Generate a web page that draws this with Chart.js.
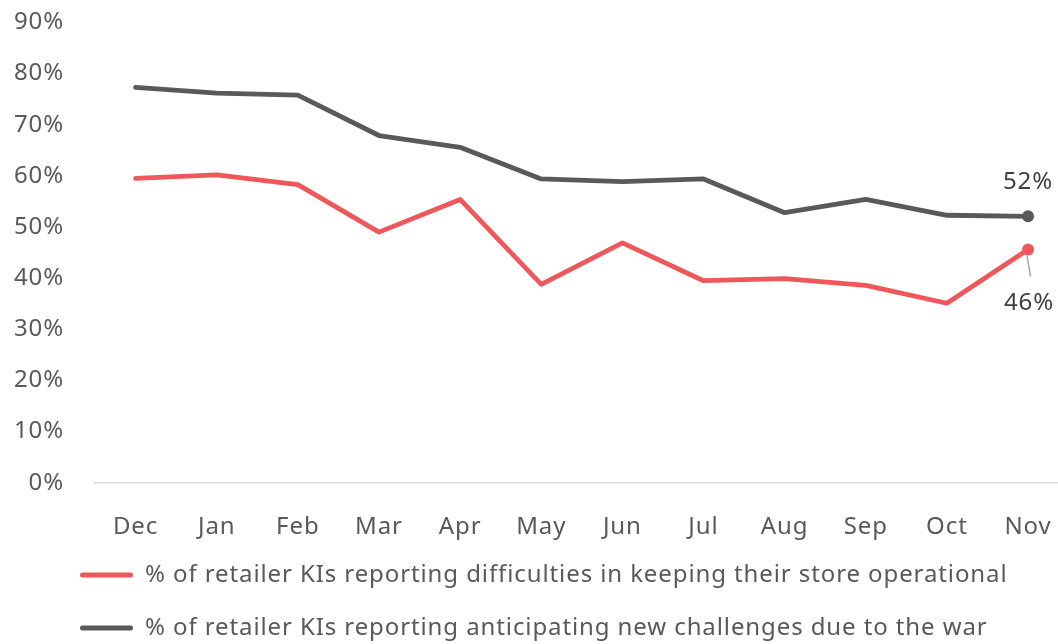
<!DOCTYPE html>
<html>
<head>
<meta charset="utf-8">
<script src="https://cdn.jsdelivr.net/npm/chart.js@4/dist/chart.umd.min.js"></script>
<style>
  html, body { margin: 0; padding: 0; background: #ffffff; overflow: hidden; }
  #wrap { position: absolute; left: 0; top: 0; width: 1100px; height: 660px; }
</style>
</head>
<body>
<div id="wrap"><canvas id="c"></canvas></div>
<script>
const months = ['Dec','Jan','Feb','Mar','Apr','May','Jun','Jul','Aug','Sep','Oct','Nov'];
const difficulties = [0.595, 0.602, 0.583, 0.490, 0.554, 0.388, 0.469, 0.395, 0.399, 0.386, 0.351, 0.456];
const challenges   = [0.773, 0.762, 0.758, 0.679, 0.656, 0.594, 0.589, 0.594, 0.528, 0.554, 0.523, 0.521];
const seriesNames = [
  '% of retailer KIs reporting difficulties in keeping their store operational',
  '% of retailer KIs reporting anticipating new challenges due to the war'
];
const yTicks = [0, 0.1, 0.2, 0.3, 0.4, 0.5, 0.6, 0.7, 0.8, 0.9];

const RED = '#ee585b';
const GREY = '#595959';
const FONT = "'Noto Sans', 'Open Sans', sans-serif";
const SPACING = '0.9px';

const lastPointOnly = (ctx) => ctx.dataIndex === months.length - 1 ? 6 : 0;

const spacing = {
  id: 'spacing',
  beforeUpdate(chart) { chart.ctx.letterSpacing = SPACING; },
  beforeLayout(chart) { chart.ctx.letterSpacing = SPACING; },
  beforeDraw(chart) { chart.ctx.letterSpacing = SPACING; },
  afterLayout(chart) {
    const lg = chart.legend;
    if (lg) {
      lg.left += 51; lg.right += 51;
      lg.top -= 10; lg.bottom -= 10;
    }
  }
};

const endLabels = {
  id: 'endLabels',
  afterDatasetsDraw(chart) {
    const ctx = chart.ctx;
    const last = months.length - 1;
    ctx.save();
    ctx.letterSpacing = SPACING;
    ctx.font = '24px ' + FONT;
    ctx.fillStyle = '#404040';
    ctx.textAlign = 'center';
    ctx.textBaseline = 'middle';
    const pg = chart.getDatasetMeta(1).data[last];
    ctx.fillText(Math.round(challenges[last] * 100) + '%', pg.x, pg.y - 34);
    const pr = chart.getDatasetMeta(0).data[last];
    ctx.strokeStyle = '#a6a6a6';
    ctx.lineWidth = 1.5;
    ctx.beginPath();
    ctx.moveTo(pr.x - 1, pr.y + 6);
    ctx.lineTo(pr.x + 2.5, pr.y + 27);
    ctx.stroke();
    ctx.fillText(Math.round(difficulties[last] * 100) + '%', pr.x + 1, pr.y + 54);
    ctx.restore();
  }
};

new Chart(document.getElementById('c'), {
  type: 'line',
  data: {
    labels: months,
    datasets: [
      {
        label: seriesNames[0],
        data: difficulties,
        borderColor: RED,
        backgroundColor: RED,
        borderWidth: 4.8,
        borderCapStyle: 'round',
        borderJoinStyle: 'round',
        pointRadius: lastPointOnly,
        pointHoverRadius: lastPointOnly,
        pointBackgroundColor: RED,
        pointBorderWidth: 0,
        tension: 0
      },
      {
        label: seriesNames[1],
        data: challenges,
        borderColor: GREY,
        backgroundColor: GREY,
        borderWidth: 4.8,
        borderCapStyle: 'round',
        borderJoinStyle: 'round',
        pointRadius: lastPointOnly,
        pointHoverRadius: lastPointOnly,
        pointBackgroundColor: GREY,
        pointBorderWidth: 0,
        tension: 0
      }
    ]
  },
  options: {
    responsive: true,
    maintainAspectRatio: false,
    animation: false,
    layout: { padding: { top: 22.5, right: 31.4, bottom: 0, left: 0 } },
    plugins: {
      tooltip: { enabled: false },
      legend: {
        display: true,
        position: 'bottom',
        align: 'start',
        labels: {
          font: { family: FONT, size: 24 },
          color: GREY,
          padding: 29,
          boxWidth: 53,
          boxHeight: 5,
          useBorderRadius: true,
          borderRadius: 2.5,
          generateLabels(chart) {
            return chart.data.datasets.map((ds, i) => ({
              text: ds.label,
              fillStyle: ds.borderColor,
              strokeStyle: ds.borderColor,
              lineWidth: 0,
              borderRadius: 2.5,
              datasetIndex: i,
              fontColor: GREY
            }));
          }
        }
      }
    },
    scales: {
      x: {
        offset: true,
        grid: { display: false, drawTicks: false },
        border: { display: true, color: '#d9d9d9', width: 1.5 },
        ticks: {
          font: { family: FONT, size: 24 },
          color: GREY,
          padding: 30,
          maxRotation: 0,
          autoSkip: false
        },
        afterFit(axis) { axis.height = 61.3; }
      },
      y: {
        min: 0,
        max: 0.9,
        afterBuildTicks(axis) { axis.ticks = yTicks.map(v => ({ value: v })); },
        grid: { display: false, drawTicks: false },
        border: { display: false },
        ticks: {
          font: { family: FONT, size: 24 },
          color: GREY,
          padding: 31,
          callback: (v) => Math.round(v * 100) + '%'
        },
        afterFit(axis) {
          axis.width = 95;
          axis.paddingTop = 0;
          axis.paddingBottom = 0;
        }
      }
    }
  },
  plugins: [spacing, endLabels]
});
</script>
</body>
</html>
